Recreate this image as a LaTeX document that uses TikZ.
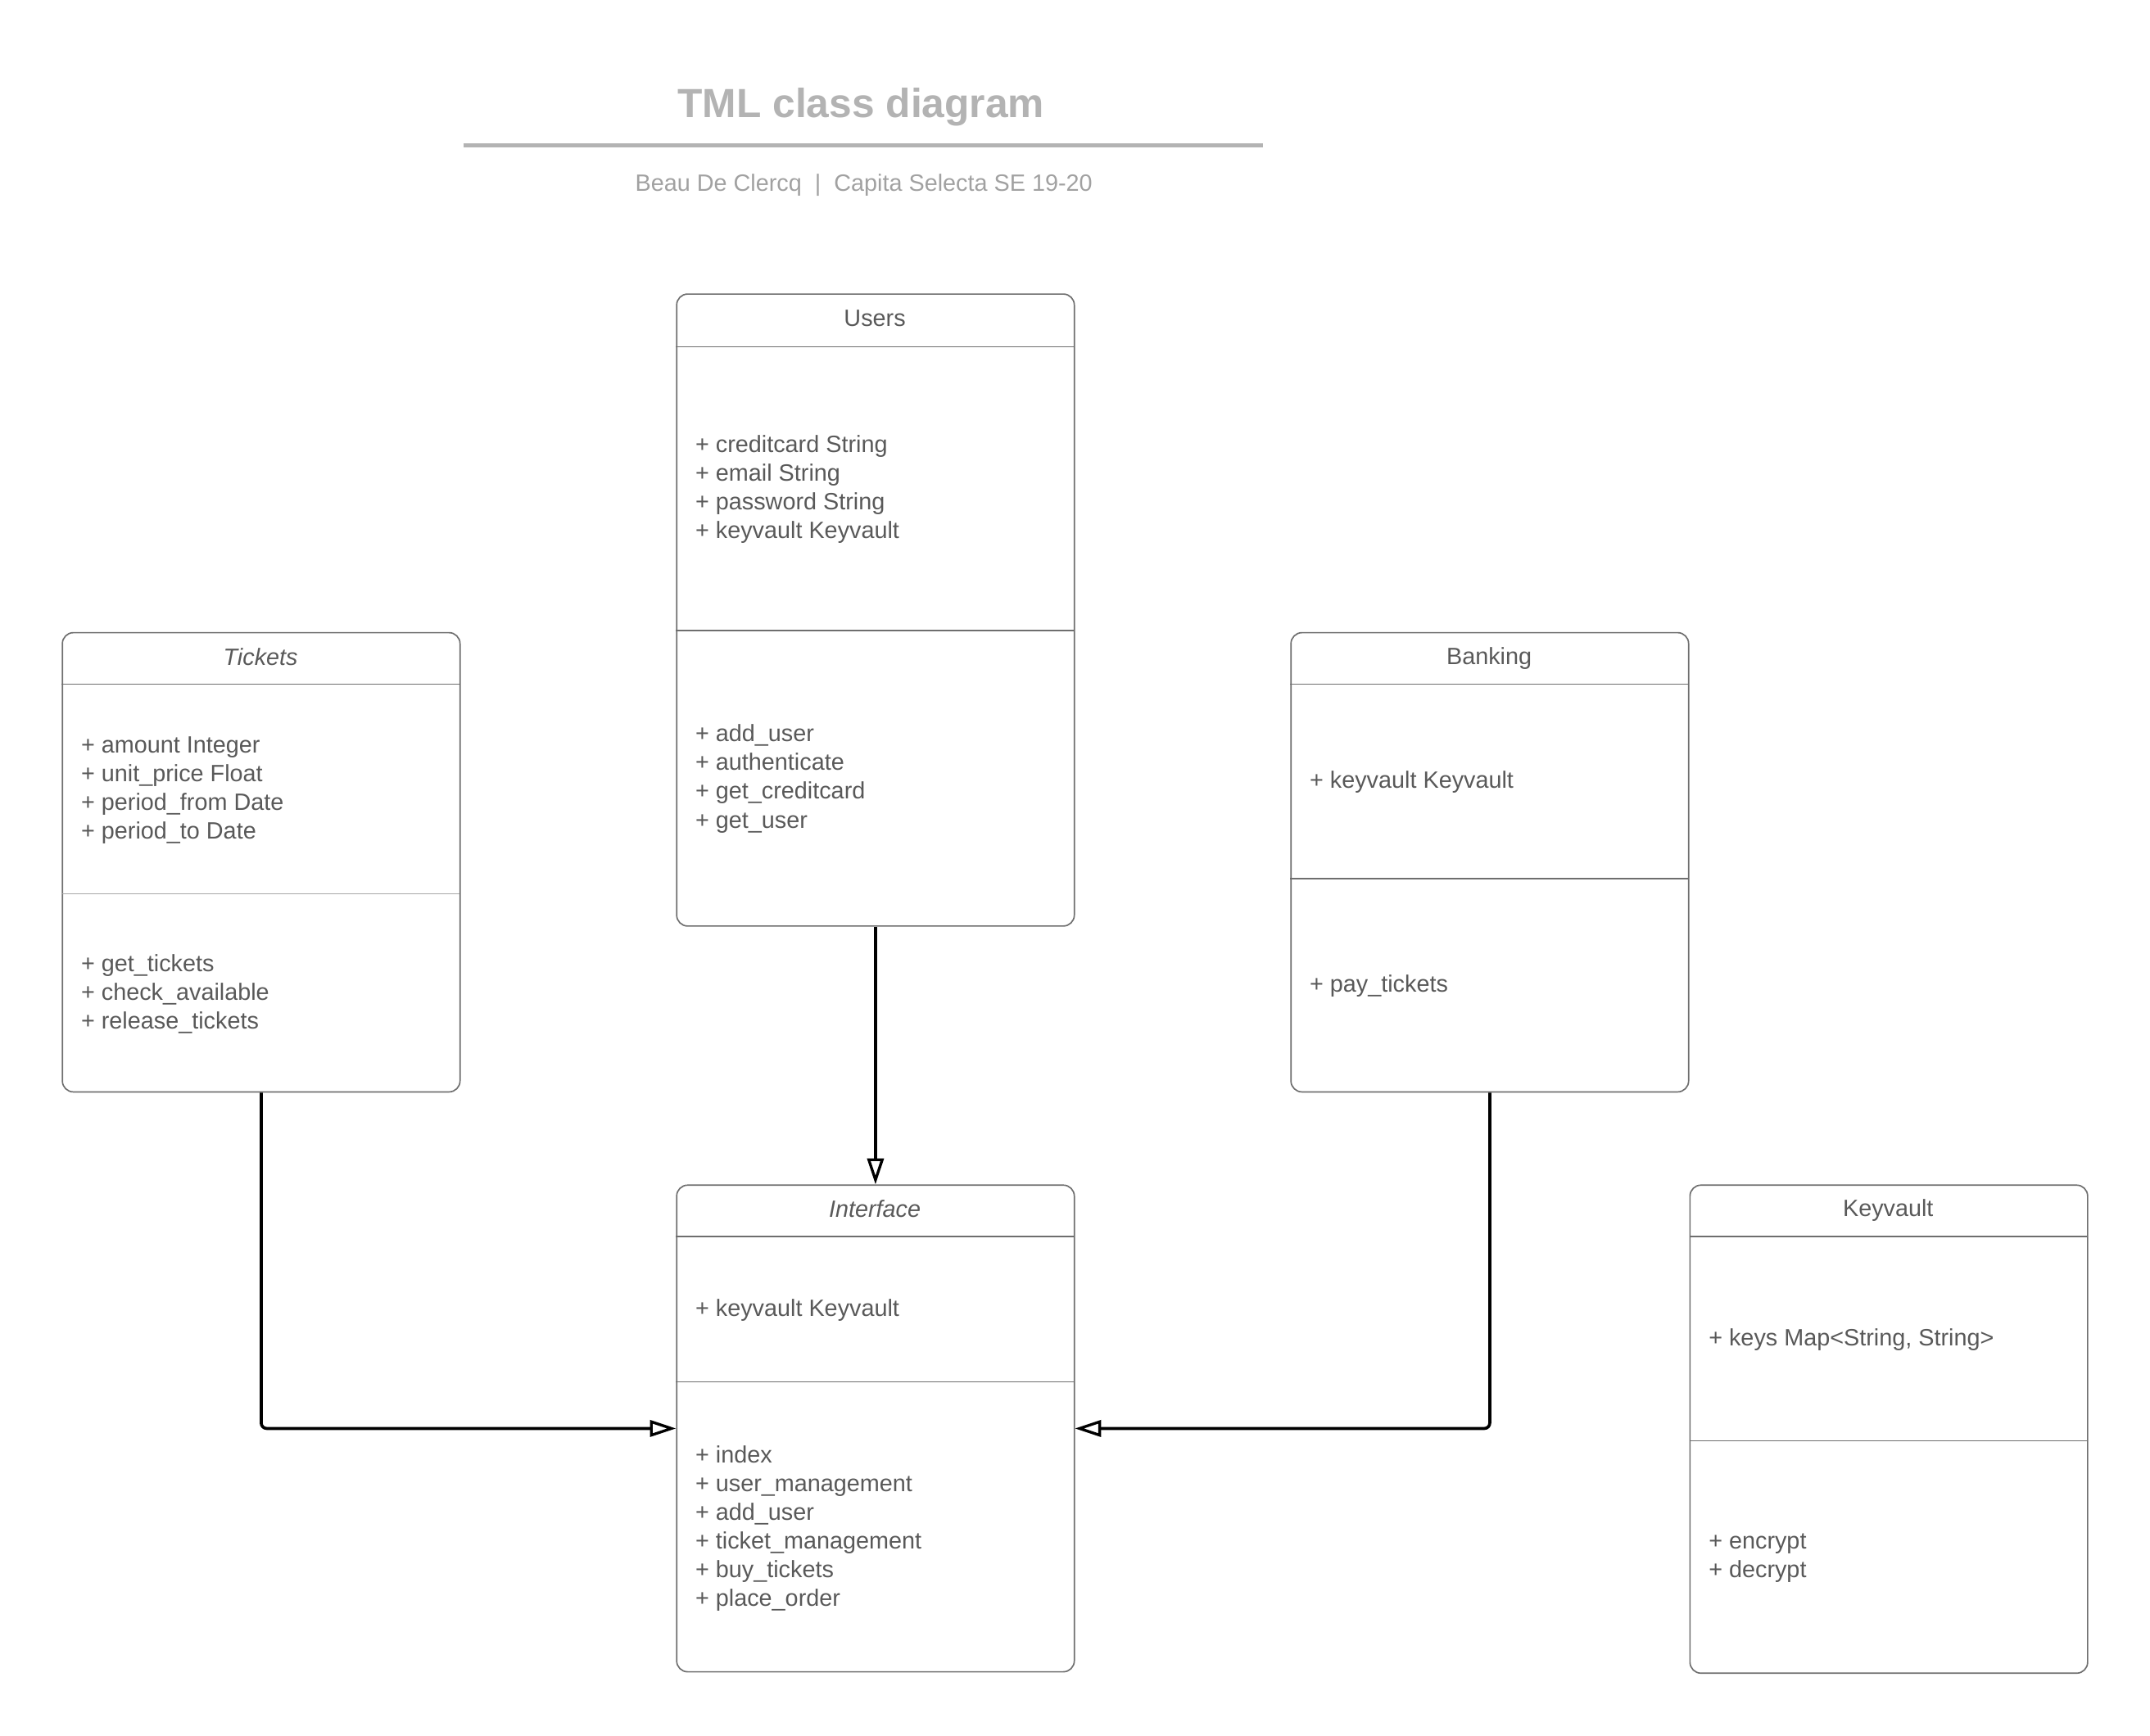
\documentclass[tikz,border=0pt]{standalone}
\usepackage{fontspec}
\setmainfont{Liberation Sans}
\usetikzlibrary{arrows.meta}
\definecolor{txt}{HTML}{595959}
\definecolor{brd}{HTML}{6E6E6E}
\definecolor{ttl}{HTML}{B3B3B3}
\begin{document}
\begin{tikzpicture}[x=1pt,y=-1pt,
  classbox/.style={draw=brd, line width=1pt, rounded corners=8pt, minimum width=290pt, inner sep=0pt, anchor=north west},
  divline/.style={draw=brd, line width=1pt},
  head/.style={text=txt, font=\fontsize{17.2}{21}\selectfont, inner sep=0pt},
  items/.style={text=txt, font=\fontsize{17.2}{21}\selectfont, inner sep=0pt, anchor=west, align=left},
  conn/.style={draw=black, line width=2.2pt, rounded corners=4pt, -{Triangle[open,length=19pt,width=12pt,fill=white,line width=2pt]}}
]
\useasboundingbox (0,0) rectangle (1568,1266);

% title
\node[text=ttl, font=\bfseries\fontsize{29.7}{36}\selectfont, inner sep=0pt] (title) at (628,78) {TML class diagram};
\draw[ttl, line width=2.6pt] (338,106) -- (921,106);
\node[text=ttl!90!black, font=\fontsize{17.2}{21}\selectfont, inner sep=0pt] (subtitle) at (630,135) {Beau De Clercq~~|~~Capita Selecta SE 19-20};

% Users
\node[classbox, minimum height=461pt] (users) at (493,214) {};
\draw[divline] (493,253) -- (783,253);
\draw[divline] (493,460) -- (783,460);
\node[head] (usersT) at (638,232) {Users};
\node[items] (usersA) at (507,357) {+ creditcard String\\+ email String\\+ password String\\+ keyvault Keyvault};
\node[items] (usersM) at (507,568) {+ add\_user\\+ authenticate\\+ get\_creditcard\\+ get\_user};

% Tickets
\node[classbox, minimum height=335pt] (tickets) at (45,461) {};
\draw[divline] (45,499) -- (335,499);
\draw[divline, draw=brd!60] (45,652) -- (335,652);
\node[head, font=\itshape\fontsize{17.2}{21}\selectfont] (ticketsT) at (190,479) {Tickets};
\node[items] (ticketsA) at (59,576.5) {+ amount Integer\\+ unit\_price Float\\+ period\_from Date\\+ period\_to Date};
\node[items] (ticketsM) at (59,725) {+ get\_tickets\\+ check\_available\\+ release\_tickets};

% Banking
\node[classbox, minimum height=335pt] (banking) at (941,461) {};
\draw[divline] (941,499) -- (1231,499);
\draw[divline] (941,641) -- (1231,641);
\node[head] (bankingT) at (1086,480) {Banking};
\node[items] (bankingA) at (955,570.5) {+ keyvault Keyvault};
\node[items] (bankingM) at (955,719) {+ pay\_tickets};

% Interface
\node[classbox, minimum height=355pt] (interface) at (493,864) {};
\draw[divline] (493,902) -- (783,902);
\draw[divline] (493,1008) -- (783,1008);
\node[head, font=\itshape\fontsize{17.2}{21}\selectfont] (interfaceT) at (638,882) {Interface};
\node[items] (interfaceA) at (507,956) {+ keyvault Keyvault};
\node[items] (interfaceM) at (507,1115) {+ index\\+ user\_management\\+ add\_user\\+ ticket\_management\\+ buy\_tickets\\+ place\_order};

% Keyvault
\node[classbox, minimum height=356pt] (keyvault) at (1232,864) {};
\draw[divline] (1232,902) -- (1522,902);
\draw[divline] (1232,1051) -- (1522,1051);
\node[head] (keyvaultT) at (1377,883) {Keyvault};
\node[items] (keyvaultA) at (1246,977) {+ keys Map<String, String>};
\node[items] (keyvaultM) at (1246,1136.5) {+ encrypt\\+ decrypt};

% connectors
\draw[conn] (users.south) -- (interface.north);
\draw[conn] (tickets.south) |- (interface.west);
\draw[conn] (banking.south) |- (interface.east);
\end{tikzpicture}
\end{document}
